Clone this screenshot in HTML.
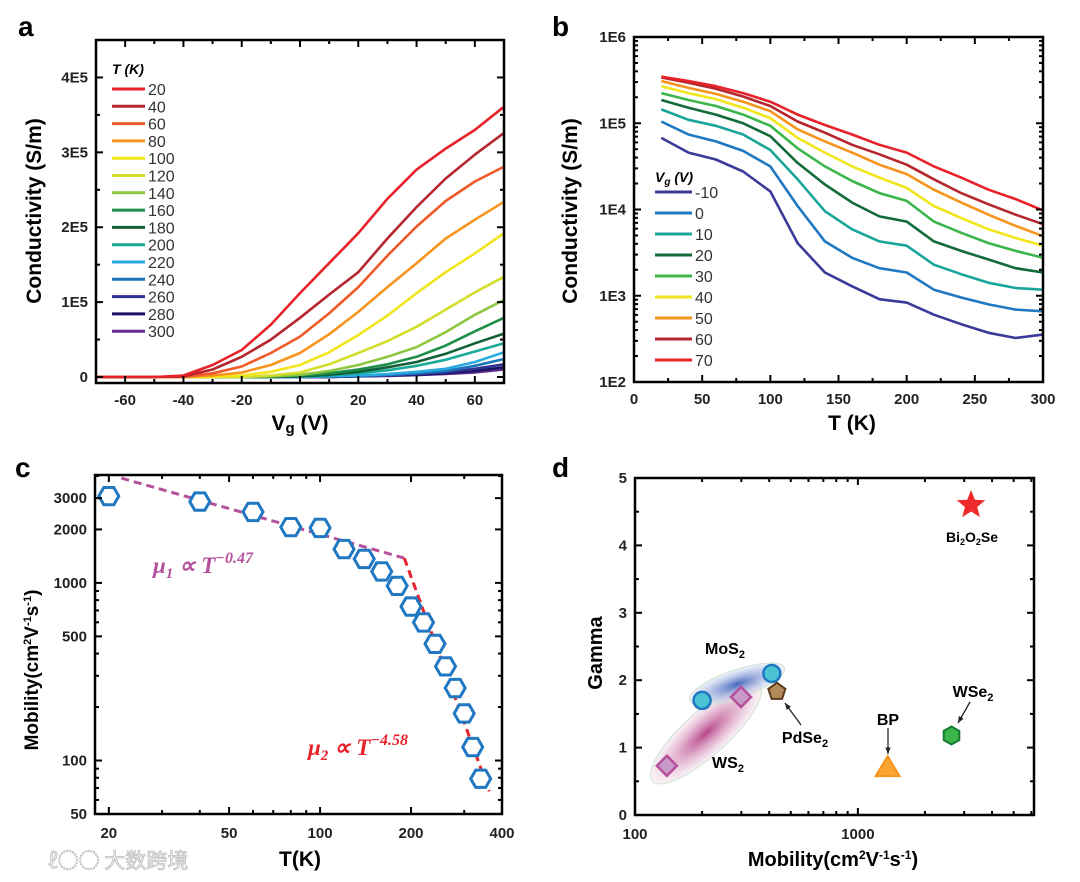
<!DOCTYPE html>
<html><head><meta charset="utf-8"><style>
html,body{margin:0;padding:0;background:#fff;}
svg{display:block;font-family:"Liberation Sans",Arial,sans-serif;}
</style></head><body>
<svg id="fig" width="1080" height="882" viewBox="0 0 1080 882" xmlns="http://www.w3.org/2000/svg">
<text x="18" y="36" font-size="28" font-weight="bold">a</text>
<text x="552" y="36" font-size="28" font-weight="bold">b</text>
<text x="15" y="477" font-size="28" font-weight="bold">c</text>
<text x="552" y="477" font-size="28" font-weight="bold">d</text>
<text x="48" y="868" font-size="21" fill="#f2f2f2" stroke="#bdbdbd" stroke-width="0.8" font-family="'Noto Sans CJK SC',sans-serif">ℓ◌◌ 大数跨境</text>
</svg>
<script>
// ---------- Panel a data ----------
var aVg = [-70,-50,-40,-30,-20,-10,0,10,20,30,40,50,60,70];
var aTemps = [20,40,60,80,100,120,140,160,180,200,220,240,260,280,300];
var aS20  = [0,0,0.02,0.16,0.36,0.7,1.12,1.52,1.92,2.38,2.77,3.05,3.3,3.61];
var aS40  = [0,0,0.01,0.1,0.27,0.5,0.79,1.1,1.4,1.85,2.27,2.65,2.97,3.26];
var aS60  = [0,0,0,0.05,0.14,0.32,0.54,0.85,1.2,1.62,2.01,2.35,2.61,2.81];
var aS80  = [0,0,0,0.02,0.06,0.16,0.32,0.57,0.87,1.2,1.52,1.85,2.1,2.34];
var aS100 = [0,0,0,0,0.02,0.07,0.16,0.33,0.56,0.82,1.12,1.4,1.65,1.92];
var aS120 = [0,0,0,0,0,0.02,0.06,0.17,0.32,0.48,0.67,0.9,1.13,1.34];
var aS140 = [0,0,0,0,0,0.01,0.03,0.08,0.16,0.27,0.4,0.6,0.83,1.03];
var aS160 = [0,0,0,0,0,0,0.01,0.02,0.05,0.1,0.17,0.27,0.42,0.61,0.79].slice(1);
var aS180 = [0,0,0,0,0,0,0.01,0.03,0.07,0.13,0.2,0.31,0.45,0.58];
var aS200 = [0,0,0,0,0,0,0.01,0.02,0.05,0.09,0.15,0.23,0.34,0.45];
var aS220 = [0,0,0,0,0,0,0,0.01,0.02,0.04,0.07,0.11,0.2,0.33];
var aS240 = [0,0,0,0,0,0,0,0.01,0.015,0.03,0.05,0.08,0.15,0.24];
var aS260 = [0,0,0,0,0,0,0,0,0.01,0.02,0.04,0.06,0.11,0.17];
var aS280 = [0,0,0,0,0,0,0,0,0.01,0.02,0.03,0.05,0.08,0.13];
var aS300 = [0,0,0,0,0,0,0,0,0.01,0.015,0.025,0.04,0.06,0.1];
var aColors = ['#e8222a','#b5262e','#f05a28','#f7941d','#f2e51b','#d4de2a','#8dc63f','#1e8f4a','#12603a','#1aaa9a','#29abe2','#1b75bc','#2e3192','#1b1464','#662d91'];
var aYTicks = [0,1,2,3,4];
var aYLabels = ['0','1E5','2E5','3E5','4E5'];
var aXTicks = [-60,-40,-20,0,20,40,60];

// ---------- Panel b data ----------
var bT = [20,40,60,80,100,120,140,160,180,200,220,240,260,280,300];
var bVgs = ['-10','0','10','20','30','40','50','60','70'];
var bLm10 = [4.83,4.66,4.58,4.44,4.21,3.61,3.27,3.11,2.96,2.92,2.78,2.67,2.57,2.51,2.55];
var bL0   = [5.02,4.87,4.79,4.68,4.5,4.04,3.63,3.44,3.32,3.27,3.07,2.98,2.9,2.84,2.82];
var bL10  = [5.16,5.04,4.97,4.87,4.69,4.35,3.98,3.77,3.63,3.58,3.36,3.25,3.15,3.09,3.07];
var bL20  = [5.27,5.18,5.1,5.0,4.85,4.54,4.29,4.08,3.92,3.86,3.63,3.52,3.42,3.32,3.27];
var bL30  = [5.35,5.27,5.2,5.1,4.97,4.71,4.5,4.33,4.19,4.1,3.86,3.73,3.61,3.52,3.44];
var bL40  = [5.43,5.35,5.28,5.18,5.06,4.83,4.66,4.5,4.37,4.25,4.04,3.9,3.77,3.67,3.58];
var bL50  = [5.49,5.41,5.34,5.25,5.14,4.93,4.79,4.66,4.52,4.41,4.23,4.08,3.94,3.81,3.69];
var bL60  = [5.53,5.47,5.4,5.31,5.2,5.02,4.89,4.75,4.64,4.52,4.35,4.19,4.06,3.94,3.83];
var bL70  = [5.54,5.49,5.43,5.35,5.25,5.1,4.98,4.87,4.75,4.66,4.5,4.37,4.23,4.12,3.99];
var bColors = ['#3b3a98','#1f78c1','#1aa59a','#136b3a','#3cb54a','#f2e51b','#f7941d','#b5262e','#e8222a'];
var bYTicks = [2,3,4,5,6];
var bYLabels = ['1E2','1E3','1E4','1E5','1E6'];
var bXTicks = [0,50,100,150,200,250,300];

// ---------- Panel c data ----------
var cT  = [20,40,60,80,100,120,140,160,180,200,220,240,260,280,300,320,340];
var cMu = [3080,2870,2510,2060,2040,1550,1365,1160,962,736,599,454,339,256,184,119,79];
var cFit1T = [22,190];
var cFit1Mu = [3890,1380];
var cFit2T = [190,363];
var cFit2Mu = [1380,67];
var cYTicks = [50,100,500,1000,2000,3000];
var cXTicks = [20,50,100,200,400];

// ---------- Panel d data ----------
var dNames = ['MoS2-a','MoS2-b','WS2-a','WS2-b','PdSe2','BP','WSe2','Bi2O2Se'];
var dMob   = [200,411,139,299,433,1360,2630,3220];
var dGamma = [1.7,2.1,0.73,1.75,1.83,0.71,1.18,4.6];
var dYTicks = [0,1,2,3,4,5];
var dXTicks = [100,1000];

// ---------- helpers ----------
var NS = 'http://www.w3.org/2000/svg';
var fig = document.getElementById('fig');
function mk(tag, attrs, name, parent) {
  var el = document.createElementNS(NS, tag);
  for (var k in attrs) el.setAttribute(k, attrs[k]);
  
  
  (parent || fig).appendChild(el);
  return el;
}
function txt(x, y, s, attrs, name) {
  var el = mk('text', attrs, name);
  el.setAttribute('x', x); el.setAttribute('y', y);
  el.textContent = s;
  return el;
}
function lin(d0, d1, r0, r1) { return function (v) { return r0 + (v - d0) / (d1 - d0) * (r1 - r0); }; }
function logs(d0, d1, r0, r1) { var l0 = Math.log10(d0), l1 = Math.log10(d1); return function (v) { return r0 + (Math.log10(v) - l0) / (l1 - l0) * (r1 - r0); }; }
function box(L, T, R, B, name) { mk('rect', {x: L, y: T, width: R - L, height: B - T, fill: 'none', stroke: '#000', 'stroke-width': 2.5}, name); }
function yTick(L, R, y, len, name) {
  mk('line', {x1: L, x2: L + len, y1: y, y2: y, stroke: '#000', 'stroke-width': 2}, name);
  mk('line', {x1: R, x2: R - len, y1: y, y2: y, stroke: '#000', 'stroke-width': 2}, name);
}
function xTick(T, B, x, len, name) {
  mk('line', {x1: x, x2: x, y1: B, y2: B - len, stroke: '#000', 'stroke-width': 2}, name);
  mk('line', {x1: x, x2: x, y1: T, y2: T + len, stroke: '#000', 'stroke-width': 2}, name);
}
var TICKF = {'font-size': 15, 'font-weight': 'bold', fill: '#222'};
function pathD(xs, ys) { var d = ''; for (var i = 0; i < xs.length; i++) d += (i ? 'L' : 'M') + xs[i].toFixed(1) + ' ' + ys[i].toFixed(1); return d; }

// ---------- Panel a ----------
(function () {
  var L = 96, R = 504, T = 40, B = 383;
  var x = lin(-70, 70, L, R), y = lin(-0.08, 4.5, B, T);
  var series = [aS20,aS40,aS60,aS80,aS100,aS120,aS140,aS160,aS180,aS200,aS220,aS240,aS260,aS280,aS300];
  for (var i = series.length - 1; i >= 0; i--) {
    mk('path', {d: pathD(aVg.map(x), series[i].map(y)), fill: 'none', stroke: aColors[i], 'stroke-width': 2.6, 'stroke-linejoin': 'round'}, 'curve-a-' + aTemps[i] + 'k');
  }
  box(L, T, R, B, 'plot-frame-a');
  for (var v = -0.0; v <= 4.5; v += 0.5) yTick(L, R, y(v), (v % 1 === 0) ? 7 : 4, 'y-tick-a');
  aYTicks.forEach(function (v, i) { txt(L - 8, y(v) + 5, aYLabels[i], Object.assign({'text-anchor': 'end'}, TICKF), 'y-tick-label-a'); });
  for (var u = -70; u <= 70; u += 10) xTick(T, B, x(u), (u % 20 === 0) ? 7 : 4, 'x-tick-a');
  aXTicks.forEach(function (v) { txt(x(v), B + 22, String(v), Object.assign({'text-anchor': 'middle'}, TICKF), 'x-tick-label-a'); });
  var yt = txt(0, 0, 'Conductivity (S/m)', {'font-size': 21, 'font-weight': 'bold', 'text-anchor': 'middle', transform: 'translate(41,211) rotate(-90)'}, 'y-axis-title-a');
  yt.removeAttribute('x'); yt.removeAttribute('y');
  var xt = txt(300, 430, '', {'font-size': 21, 'font-weight': 'bold', 'text-anchor': 'middle'}, 'x-axis-title-a');
  xt.innerHTML = 'V<tspan font-size="15" dy="3">g</tspan><tspan dy="-3"> (V)</tspan>';
  txt(112, 74, 'T (K)', {'font-size': 14, 'font-weight': 'bold', 'font-style': 'italic'}, 'legend-title-a');
  aTemps.forEach(function (t, i) {
    var yy = 89 + i * 17.3;
    mk('line', {x1: 112, x2: 145, y1: yy, y2: yy, stroke: aColors[i], 'stroke-width': 3}, 'legend-swatch-a');
    txt(148, yy + 6, String(t), {'font-size': 16, fill: '#333'}, 'legend-entry-a');
  });
})();

// ---------- Panel b ----------
(function () {
  var L = 634, R = 1043, T = 37, B = 382;
  var x = lin(0, 300, L, R), y = lin(2, 6, B, T);
  var series = [bLm10,bL0,bL10,bL20,bL30,bL40,bL50,bL60,bL70];
  series.forEach(function (s, i) {
    mk('path', {d: pathD(bT.map(x), s.map(y)), fill: 'none', stroke: bColors[i], 'stroke-width': 2.6, 'stroke-linejoin': 'round'}, 'curve-b-vg-' + bVgs[i]);
  });
  box(L, T, R, B, 'plot-frame-b');
  for (var d = 2; d < 6; d++) for (var m = 1; m <= 9; m++) yTick(L, R, y(d + Math.log10(m)), m === 1 ? 7 : 4, 'y-tick-b');
  yTick(L, R, y(6), 7, 'y-tick-b');
  bYTicks.forEach(function (v, i) { txt(L - 8, y(v) + 5, bYLabels[i], Object.assign({'text-anchor': 'end'}, TICKF), 'y-tick-label-b'); });
  for (var u = 0; u <= 300; u += 25) xTick(T, B, x(u), (u % 50 === 0) ? 7 : 4, 'x-tick-b');
  bXTicks.forEach(function (v) { txt(x(v), B + 22, String(v), Object.assign({'text-anchor': 'middle'}, TICKF), 'x-tick-label-b'); });
  var yt = txt(0, 0, 'Conductivity (S/m)', {'font-size': 21, 'font-weight': 'bold', 'text-anchor': 'middle', transform: 'translate(577,211) rotate(-90)'}, 'y-axis-title-b');
  yt.removeAttribute('x'); yt.removeAttribute('y');
  txt(852, 430, 'T (K)', {'font-size': 21, 'font-weight': 'bold', 'text-anchor': 'middle'}, 'x-axis-title-b');
  var lt = txt(655, 182, '', {'font-size': 14, 'font-weight': 'bold', 'font-style': 'italic'}, 'legend-title-b');
  lt.innerHTML = 'V<tspan font-size="10" dy="3">g</tspan><tspan dy="-3"> (V)</tspan>';
  bVgs.forEach(function (v, i) {
    var yy = 192 + i * 21;
    mk('line', {x1: 655, x2: 692, y1: yy, y2: yy, stroke: bColors[i], 'stroke-width': 3}, 'legend-swatch-b');
    txt(695, yy + 6, v, {'font-size': 16, fill: '#333'}, 'legend-entry-b');
  });
})();

// ---------- Panel c ----------
(function () {
  var L = 95, R = 502, T = 475, B = 814;
  var x = logs(18, 400, L, R), y = logs(50, 4050, B, T);
  mk('path', {d: pathD(cFit1T.map(x), cFit1Mu.map(y)), fill: 'none', stroke: '#b5509b', 'stroke-width': 3, 'stroke-dasharray': '8 5'}, 'fit-line-mu1');
  mk('path', {d: pathD(cFit2T.map(x), cFit2Mu.map(y)), fill: 'none', stroke: '#e8222a', 'stroke-width': 3, 'stroke-dasharray': '8 5'}, 'fit-line-mu2');
  cT.forEach(function (t, i) {
    var cx = x(t), cy = y(cMu[i]), r = 10, pts = [];
    for (var k = 0; k < 6; k++) { var a = Math.PI / 3 * k; pts.push((cx + r * Math.cos(a)).toFixed(1) + ',' + (cy + r * Math.sin(a)).toFixed(1)); }
    mk('polygon', {points: pts.join(' '), fill: '#fff', stroke: '#1f78c1', 'stroke-width': 3}, 'mobility-point');
  });
  box(L, T, R, B, 'plot-frame-c');
  [50,60,70,80,90,100,200,300,400,500,600,700,800,900,1000,2000,3000,4000].forEach(function (v) {
    var major = cYTicks.indexOf(v) >= 0; yTick(L, R, y(v), major ? 7 : 4, 'y-tick-c');
  });
  cYTicks.forEach(function (v) { txt(L - 8, y(v) + 5, String(v), Object.assign({'text-anchor': 'end'}, TICKF), 'y-tick-label-c'); });
  [20,30,40,50,60,70,80,90,100,200,300,400].forEach(function (v) {
    var major = cXTicks.indexOf(v) >= 0; xTick(T, B, x(v), major ? 7 : 4, 'x-tick-c');
  });
  cXTicks.forEach(function (v) { txt(x(v), B + 24, String(v), Object.assign({'text-anchor': 'middle'}, TICKF), 'x-tick-label-c'); });
  var yt = txt(0, 0, '', {'font-size': 19, 'font-weight': 'bold', 'text-anchor': 'middle', transform: 'translate(38,670) rotate(-90)'}, 'y-axis-title-c');
  yt.removeAttribute('x'); yt.removeAttribute('y');
  yt.innerHTML = 'Mobility(cm<tspan font-size="11" dy="-7">2</tspan><tspan dy="7">V</tspan><tspan font-size="11" dy="-7">-1</tspan><tspan dy="7">s</tspan><tspan font-size="11" dy="-7">-1</tspan><tspan dy="7">)</tspan>';
  txt(300, 866, 'T(K)', {'font-size': 21, 'font-weight': 'bold', 'text-anchor': 'middle'}, 'x-axis-title-c');
  var m1 = txt(153, 573, '', {'font-size': 23, 'font-weight': 'bold', 'font-style': 'italic', fill: '#b5509b', 'font-family': '"Liberation Serif",serif'}, 'annotation-mu1');
  m1.innerHTML = 'μ<tspan font-size="15" dy="5">1</tspan><tspan dy="-5"> ∝ T</tspan><tspan font-size="16" dy="-10">−0.47</tspan>';
  var m2 = txt(308, 755, '', {'font-size': 23, 'font-weight': 'bold', 'font-style': 'italic', fill: '#e8222a', 'font-family': '"Liberation Serif",serif'}, 'annotation-mu2');
  m2.innerHTML = 'μ<tspan font-size="15" dy="5">2</tspan><tspan dy="-5"> ∝ T</tspan><tspan font-size="16" dy="-10">−4.58</tspan>';
})();

// ---------- Panel d ----------
(function () {
  var L = 635, R = 1034, T = 478, B = 815;
  var x = logs(100, 6170, L, R), y = lin(0, 5, B, T);
  var defs = mk('defs', {}, 'gradients');
  var g1 = mk('radialGradient', {id: 'gBlue'}, 'blue-gradient', defs);
  mk('stop', {offset: '0', 'stop-color': '#2a4fb5', 'stop-opacity': '0.85'}, 'stop', g1);
  mk('stop', {offset: '1', 'stop-color': '#c9d6f2', 'stop-opacity': '0.35'}, 'stop', g1);
  var g2 = mk('radialGradient', {id: 'gPink'}, 'pink-gradient', defs);
  mk('stop', {offset: '0', 'stop-color': '#b0307d', 'stop-opacity': '0.9'}, 'stop', g2);
  mk('stop', {offset: '1', 'stop-color': '#f1dbe8', 'stop-opacity': '0.4'}, 'stop', g2);
  mk('ellipse', {cx: 706, cy: 733, rx: 72, ry: 22, fill: 'url(#gPink)', stroke: '#cfe3cf', 'stroke-width': 1, transform: 'rotate(-42 706 733)'}, 'ws2-cluster');
  mk('ellipse', {cx: 737, cy: 684, rx: 50, ry: 14, fill: 'url(#gBlue)', stroke: '#cfe3cf', 'stroke-width': 1, transform: 'rotate(-19 737 684)'}, 'mos2-cluster');
  function pt(i) { return [x(dMob[i]), y(dGamma[i])]; }
  [0, 1].forEach(function (i) { var p = pt(i); mk('circle', {cx: p[0], cy: p[1], r: 8.5, fill: '#4cc3d3', stroke: '#1f78c1', 'stroke-width': 2.5}, 'mos2-point'); });
  [2, 3].forEach(function (i) { var p = pt(i); var s = 10;
    mk('polygon', {points: [p[0], p[1] - s, p[0] + s, p[1], p[0], p[1] + s, p[0] - s, p[1]].join(' '), fill: '#c89ac8', stroke: '#b5509b', 'stroke-width': 2.5}, 'ws2-point'); });
  (function () { var p = pt(4), r = 9, a = []; for (var k = 0; k < 5; k++) { var t = -Math.PI / 2 + k * 2 * Math.PI / 5; a.push((p[0] + r * Math.cos(t)).toFixed(1) + ',' + (p[1] + r * Math.sin(t)).toFixed(1)); }
    mk('polygon', {points: a.join(' '), fill: '#b58a5a', stroke: '#5a3b1e', 'stroke-width': 2}, 'pdse2-point'); })();
  (function () { var p = pt(5); mk('polygon', {points: [p[0], p[1] - 11, p[0] + 12, p[1] + 9, p[0] - 12, p[1] + 9].join(' '), fill: '#f9a531', stroke: '#f7941d', 'stroke-width': 2}, 'bp-point'); })();
  (function () { var p = pt(6), r = 9, a = []; for (var k = 0; k < 6; k++) { var t = Math.PI / 6 + k * Math.PI / 3; a.push((p[0] + r * Math.cos(t)).toFixed(1) + ',' + (p[1] + r * Math.sin(t)).toFixed(1)); }
    mk('polygon', {points: a.join(' '), fill: '#3cb54a', stroke: '#137a35', 'stroke-width': 2}, 'wse2-point'); })();
  (function () { var p = pt(7), a = []; for (var k = 0; k < 10; k++) { var r = k % 2 ? 6.5 : 15, t = -Math.PI / 2 + k * Math.PI / 5; a.push((p[0] + r * Math.cos(t)).toFixed(1) + ',' + (p[1] + r * Math.sin(t)).toFixed(1)); }
    mk('polygon', {points: a.join(' '), fill: '#ee2a2a'}, 'bi2o2se-point'); })();
  box(L, T, R, B, 'plot-frame-d');
  for (var v = 0; v <= 5; v += 0.5) yTick(L, R, y(v), (v % 1 === 0) ? 7 : 4, 'y-tick-d');
  dYTicks.forEach(function (v) { txt(L - 8, y(v) + 5, String(v), Object.assign({'text-anchor': 'end'}, TICKF), 'y-tick-label-d'); });
  [100,200,300,400,500,600,700,800,900,1000,2000,3000,4000,5000,6000].forEach(function (v) { xTick(T, B, x(v), dXTicks.indexOf(v) >= 0 ? 7 : 4, 'x-tick-d'); });
  dXTicks.forEach(function (v) { txt(x(v), B + 24, String(v), Object.assign({'text-anchor': 'middle'}, TICKF), 'x-tick-label-d'); });
  var yt = txt(0, 0, 'Gamma', {'font-size': 20, 'font-weight': 'bold', 'text-anchor': 'middle', transform: 'translate(602,653) rotate(-90)'}, 'y-axis-title-d');
  yt.removeAttribute('x'); yt.removeAttribute('y');
  var xt = txt(833, 866, '', {'font-size': 20, 'font-weight': 'bold', 'text-anchor': 'middle'}, 'x-axis-title-d');
  xt.innerHTML = 'Mobility(cm<tspan font-size="12" dy="-7">2</tspan><tspan dy="7">V</tspan><tspan font-size="12" dy="-7">-1</tspan><tspan dy="7">s</tspan><tspan font-size="12" dy="-7">-1</tspan><tspan dy="7">)</tspan>';
  var LF = {'font-size': 16, 'font-weight': 'bold', 'text-anchor': 'middle'};
  function sublabel(cx, cy, a, sub, b, name) { var t = txt(cx, cy, '', LF, name); t.innerHTML = a + '<tspan font-size="11" dy="4">' + sub + '</tspan><tspan dy="-4">' + b + '</tspan>'; }
  var t1 = txt(972, 542, '', {'font-size': 14, 'font-weight': 'bold', 'text-anchor': 'middle'}, 'label-bi2o2se');
  t1.innerHTML = 'Bi<tspan font-size="9" dy="3">2</tspan><tspan dy="-3">O</tspan><tspan font-size="9" dy="3">2</tspan><tspan dy="-3">Se</tspan>';
  sublabel(725, 654, 'MoS', '2', '', 'label-mos2');
  sublabel(728, 768, 'WS', '2', '', 'label-ws2');
  sublabel(805, 743, 'PdSe', '2', '', 'label-pdse2');
  txt(888, 725, 'BP', LF, 'label-bp');
  sublabel(973, 697, 'WSe', '2', '', 'label-wse2');
  function arrow(x1, y1, x2, y2, name) {
    mk('line', {x1: x1, y1: y1, x2: x2, y2: y2, stroke: '#222', 'stroke-width': 1.3}, name);
    var a = Math.atan2(y2 - y1, x2 - x1), h = 7;
    mk('polygon', {points: [x2, y2, x2 - h * Math.cos(a - 0.4), y2 - h * Math.sin(a - 0.4), x2 - h * Math.cos(a + 0.4), y2 - h * Math.sin(a + 0.4)].join(' '), fill: '#222'}, name + '-head');
  }
  arrow(801, 725, 785, 703, 'arrow-pdse2');
  arrow(888, 728, 888, 754, 'arrow-bp');
  arrow(970, 702, 958, 723, 'arrow-wse2');
})();
</script>
</body></html>
